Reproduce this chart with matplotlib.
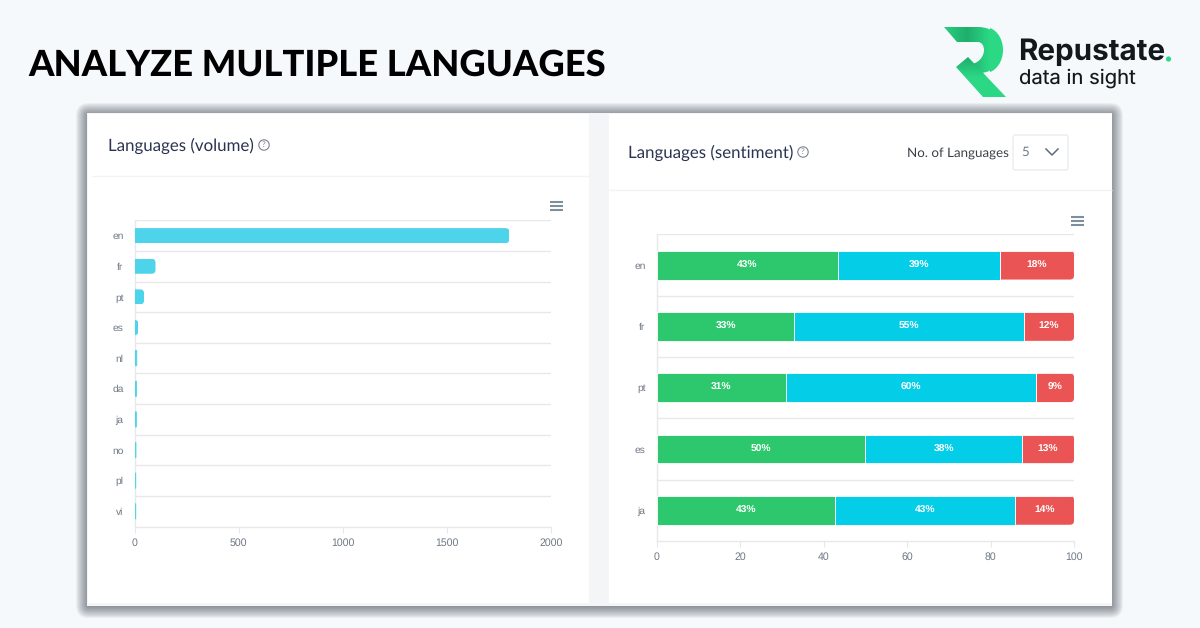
"""Repustate language volume + sentiment panels, drawn as one 1200x628 image."""
import numpy as np
import matplotlib; matplotlib.use('Agg')
import matplotlib.pyplot as plt
from matplotlib.colors import LinearSegmentedColormap
from matplotlib.patches import Rectangle, FancyBboxPatch, Circle, PathPatch, Polygon
from matplotlib.path import Path
from matplotlib.transforms import IdentityTransform

volume_langs = ['en', 'fr', 'pt', 'es', 'nl', 'da', 'ja', 'no', 'pl', 'vi']
volume_vals = [1800, 100, 45, 18, 10, 9, 8, 6, 5, 5]
volume_ticks = [0, 500, 1000, 1500, 2000]

sent_langs = ['en', 'fr', 'pt', 'es', 'ja']
positive = [43.4, 33, 31, 50, 42.8]
neutral = [38.9, 55, 60, 37.5, 43]
negative = [17.7, 12, 9, 12.5, 14.2]
pos_labels = ['43%', '33%', '31%', '50%', '43%']
neu_labels = ['39%', '55%', '60%', '38%', '43%']
neg_labels = ['18%', '12%', '9%', '13%', '14%']
sent_ticks = [0, 20, 40, 60, 80, 100]

plt.rcParams['font.family'] = ['Lato', 'DejaVu Sans']
plt.rcParams['text.hinting'] = 'no_hinting'
W, H = 1200, 628
BG = '#f5f9fc'
GRID = '#e6e8ea'
TICK = '#6e7885'
HEAD = '#2a3350'
BAR = '#4dd4ea'
HELV = ['Liberation Sans', 'DejaVu Sans']

fig = plt.figure(figsize=(W / 100, H / 100), dpi=100, facecolor=BG)

# page layer in pixel coords, y down
bg = fig.add_axes([0, 0, 1, 1])
bg.set_xlim(0, W); bg.set_ylim(H, 0); bg.axis('off')

# soft shadow round the screenshot
for i in range(12, 0, -1):
    bg.add_patch(FancyBboxPatch((87 - i + 1, 113 - i + 2), 1025 + 2 * i - 2, 493 + 2 * i - 2,
                                boxstyle='round,pad=0,rounding_size=%d' % (i + 1),
                                fc='#30363c', ec='none', alpha=0.055, zorder=1))
bg.add_patch(Rectangle((87, 113), 1025, 493, fc='#f3f5f7', ec='none', zorder=2))
bg.add_patch(Rectangle((88, 114), 501, 489, fc='white', ec='none', zorder=3))
bg.add_patch(Rectangle((609, 114), 503, 489, fc='white', ec='none', zorder=3))
bg.plot([92, 589], [176, 176], color='#f1f3f5', lw=1, zorder=4, solid_capstyle='butt')
bg.plot([609, 1112], [190, 190], color='#f1f3f5', lw=1, zorder=4, solid_capstyle='butt')

bg.text(28, 65, 'ANALYZE MULTIPLE LANGUAGES', fontsize=26.2, fontweight='black',
        color='black', va='center', ha='left')

# logo, R shape filled with a gradient
light = '#2bd884'
top_cmap = LinearSegmentedColormap.from_list('r_top', ['#27cf80', '#1fae6c', '#2bd884'])
leg_cmap = LinearSegmentedColormap.from_list('r_leg', ['#1fae6c', '#2bd884', '#2bd884'])
top_path = PathPatch(Path(
    [(944, 27), (978, 27), (994, 27), (1003, 38), (1003, 50), (1003, 62), (994, 72), (981, 73),
     (972, 64), (978, 63), (984, 57), (984, 50), (984, 46), (982, 42), (978, 42), (957, 42), (944, 27)],
    [1, 2, 4, 4, 4, 4, 4, 4, 2, 4, 4, 4, 4, 4, 4, 2, 2]), fc='none', ec='none', zorder=5)
bg.add_patch(top_path)
top_im = bg.imshow(np.linspace(0, 1, 64)[None, :], extent=(944, 990, 73, 27), aspect='auto',
                   cmap=top_cmap, zorder=5)
top_im.set_clip_path(top_path)
# right of the gradient box the bowl is plain green
bowl = PathPatch(Path([(990, 28), (998, 31), (1003, 40), (1003, 50), (1003, 62), (996, 70), (990, 72), (990, 28)],
                      [1, 4, 4, 4, 4, 4, 4, 2]), fc=light, ec='none', zorder=5)
bg.add_patch(bowl)
leg = Polygon([(956, 67), (968, 57), (1006, 97), (983, 97)], fc='none', ec='none', zorder=6)
bg.add_patch(leg)
leg_im = bg.imshow(np.linspace(0, 1, 64)[:, None], extent=(950, 1010, 97, 57), aspect='auto',
                   cmap=leg_cmap, origin='upper', zorder=6)
leg_im.set_clip_path(leg)
bg.set_xlim(0, W); bg.set_ylim(H, 0)
bg.text(1018, 52, 'Repustate', fontsize=21.3, fontweight='bold', color='#14181c', va='center', family='Inter')
bg.add_patch(Circle((1168.5, 59), 2.6, fc=light, ec='none', zorder=6))
bg.text(1019, 78, 'data in sight', fontsize=14.6, color='#14181c', va='center', family='Inter')

# panel headers
bg.text(108, 146, 'Languages (volume)', fontsize=12.2, color=HEAD, va='center')
bg.text(628, 153, 'Languages (sentiment)', fontsize=12.2, color=HEAD, va='center')
for cx, cy in [(264, 145), (803, 152)]:
    bg.add_patch(Circle((cx, cy), 5.2, fc='none', ec='#7d848c', lw=0.8, zorder=5))
    bg.text(cx, cy, '?', fontsize=6, color='#7d848c', ha='center', va='center', zorder=5)
bg.text(907, 153, 'No. of Languages', fontsize=9.6, color='#3a4048', va='center')
bg.add_patch(FancyBboxPatch((1013, 135), 55, 35, boxstyle='round,pad=0,rounding_size=2',
                            fc='white', ec='#e9edf2', lw=1, zorder=5))
bg.text(1025, 152, '5', fontsize=9.5, color='#6f7b8a', ha='center', va='center', zorder=6)
bg.plot([1046, 1052, 1058], [149, 155, 149], color='#5f6b7a', lw=1.1, zorder=6)

# hamburger menus
for x0, ys in [(550, [202, 206, 210]), (1071, [217, 221, 225])]:
    for y in ys:
        bg.plot([x0, x0 + 13], [y, y], color='#7d8e9e', lw=1.5, zorder=6, solid_capstyle='butt')


def px_axes(x0, x1, y0, y1):
    ax = fig.add_axes([x0 / W, 1 - y1 / H, (x1 - x0) / W, (y1 - y0) / H])
    ax.patch.set_alpha(0)
    for s in ['top', 'right']:
        ax.spines[s].set_visible(False)
    for s in ['left', 'bottom']:
        ax.spines[s].set_color(GRID); ax.spines[s].set_linewidth(1)
    return ax


def style_axes(ax, labels, xticks):
    n = len(labels)
    ax.set_ylim(n - 0.5, -0.5)
    ax.set_yticks(range(n), labels, family=HELV)
    ax.set_xticks(xticks, [str(t) for t in xticks], family=HELV)
    ax.set_yticks([i - 0.5 for i in range(n)], minor=True)
    ax.grid(True, axis='y', which='minor', color=GRID, lw=1)
    ax.set_axisbelow(True)
    ax.tick_params(axis='y', which='both', length=0, labelsize=7.4, labelcolor=TICK, pad=8)
    ax.tick_params(axis='x', length=4, color=GRID, labelsize=7.6, labelcolor=TICK, pad=4)


def round_end(bar, r=4):
    # round the right hand corners only, by clipping to a rounded box
    (x0, y0), (x1, y1) = bar.get_window_extent().get_points()
    w = x1 - x0
    if w < 3:
        # hairline bars: give them an edge so they stay teal
        bar.set_edgecolor(BAR); bar.set_linewidth(0.6); bar.set_snap(False)
        return
    clip = FancyBboxPatch((x0 - 20, y0), w + 20, y1 - y0,
                          boxstyle='round,pad=0,rounding_size=%g' % min(r, w),
                          transform=IdentityTransform())
    bar.set_clip_path(clip)


# left panel
ax1 = px_axes(134.7, 551, 220.3, 526.6)
ax1.set_xlim(0, 2000)
style_axes(ax1, volume_langs, volume_ticks)
for b in ax1.barh(range(len(volume_vals)), volume_vals, height=0.49, color=BAR, zorder=3):
    round_end(b)

# right panel
ax2 = px_axes(656.7, 1074, 234.5, 541)
ax2.set_xlim(0, 100)
style_axes(ax2, sent_langs, sent_ticks)
ys = range(len(sent_langs))
lefts = [a + b for a, b in zip(positive, neutral)]
b1 = ax2.barh(ys, positive, height=0.47, color='#2dc76d', edgecolor='white', linewidth=0.6, zorder=3)
b2 = ax2.barh(ys, neutral, left=positive, height=0.47, color='#04cde8', edgecolor='white', linewidth=0.6, zorder=3)
b3 = ax2.barh(ys, negative, left=lefts, height=0.47, color='#ea5455', edgecolor='white', linewidth=0.6, zorder=3)
for b in b3:
    round_end(b)
for bars, labels in [(b1, pos_labels), (b2, neu_labels), (b3, neg_labels)]:
    ax2.bar_label(bars, labels=labels, label_type='center', color='white',
                  fontsize=7.4, fontweight='bold', family=HELV)

fig.savefig('out.png', dpi=100, facecolor=BG)
